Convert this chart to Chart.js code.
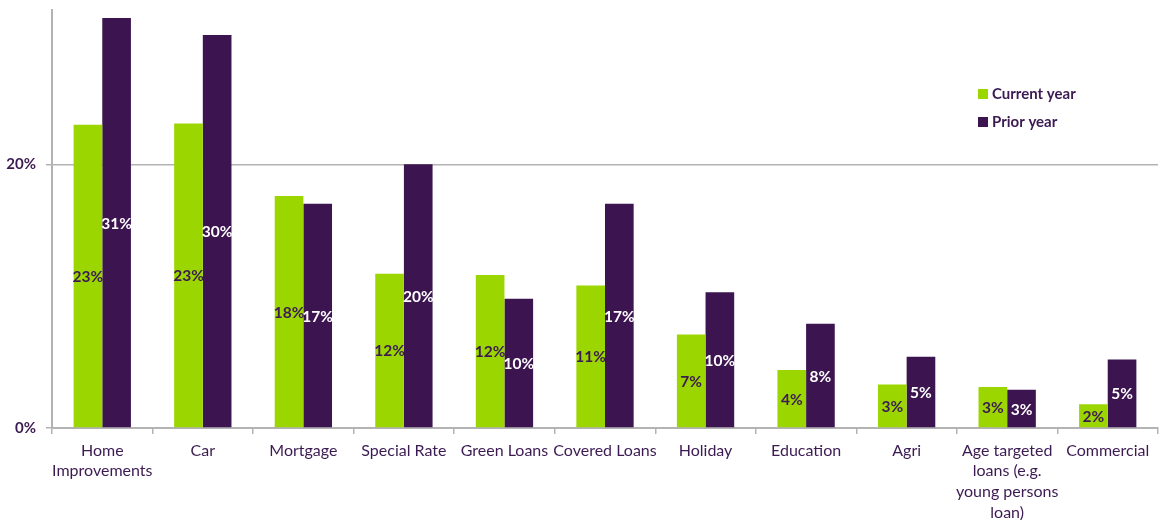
<!DOCTYPE html>
<html>
<head>
<meta charset="utf-8">
<script src="https://cdn.jsdelivr.net/npm/chart.js@4/dist/chart.umd.min.js"></script>
<style>
  html, body { margin: 0; padding: 0; background: #ffffff; }
  #wrap { width: 1166px; height: 520px; position: relative; }
</style>
</head>
<body>
<div id="wrap"><canvas id="chart"></canvas></div>
<script>
// Loan product categories (multi-line labels as drawn under the axis)
const categories = [
  ["Home", "Improvements"],
  "Car",
  "Mortgage",
  "Special Rate",
  "Green Loans",
  "Covered Loans",
  "Holiday",
  "Education",
  "Agri",
  ["Age targeted", "loans (e.g.", "young persons", "loan)"],
  "Commercial"
];

// Share of respondents, in percent
const currentYear = [23.0, 23.1, 17.6, 11.7, 11.6, 10.8, 7.1, 4.4, 3.3, 3.1, 1.8];
const priorYear   = [31.1, 29.8, 17.0, 20.0, 9.8, 17.0, 10.3, 7.9, 5.4, 2.9, 5.2];

const yTicks = [0, 20];

const GREEN = '#9cd600';
const PURPLE = '#3c1450';
const TEXT = '#3c1a52';
const GRID = '#b3b3b3';
const FONT = 'Lato, "Open Sans", sans-serif';

// Value labels centred inside each bar
const barValueLabels = {
  id: 'barValueLabels',
  afterDatasetsDraw(chart) {
    const ctx = chart.ctx;
    ctx.save();
    ctx.font = 'bold 15.5px ' + FONT;
    ctx.textAlign = 'center';
    ctx.textBaseline = 'middle';
    chart.data.datasets.forEach((ds, di) => {
      const meta = chart.getDatasetMeta(di);
      meta.data.forEach((bar, i) => {
        const v = ds.data[i];
        ctx.fillStyle = di === 0 ? TEXT : '#ffffff';
        ctx.fillText(Math.round(v) + '%', bar.x, (bar.y + bar.base) / 2 + 1);
      });
    });
    ctx.restore();
  }
};

// Legend placed inside the plot, right side
const sideLegend = {
  id: 'sideLegend',
  afterDraw(chart) {
    const ctx = chart.ctx;
    ctx.save();
    ctx.font = 'bold 15px ' + FONT;
    ctx.textBaseline = 'middle';
    chart.data.datasets.forEach((ds, i) => {
      const y = 94 + i * 28;
      ctx.fillStyle = ds.backgroundColor;
      ctx.fillRect(978, y - 5, 10, 10);
      ctx.fillStyle = TEXT;
      ctx.fillText(ds.label, 992, y);
    });
    ctx.restore();
  }
};

new Chart(document.getElementById('chart'), {
  type: 'bar',
  data: {
    labels: categories,
    datasets: [
      { label: 'Current year', data: currentYear, backgroundColor: GREEN },
      { label: 'Prior year', data: priorYear, backgroundColor: PURPLE }
    ]
  },
  options: {
    responsive: true,
    maintainAspectRatio: false,
    animation: false,
    layout: { padding: { top: 10, right: 8, left: 0, bottom: 0 } },
    datasets: { bar: { categoryPercentage: 0.57, barPercentage: 1.0 } },
    plugins: {
      legend: { display: false },
      tooltip: { enabled: false }
    },
    scales: {
      x: {
        grid: {
          offset: true,
          drawOnChartArea: false,
          drawTicks: true,
          tickLength: 6,
          color: GRID,
          lineWidth: 1.5
        },
        border: { color: GRID, width: 2 },
        ticks: {
          color: TEXT,
          font: { family: FONT, size: 16, lineHeight: 1.3 },
          padding: 6,
          maxRotation: 0,
          autoSkip: false
        },
        afterFit(scale) { scale.height = 92; }
      },
      y: {
        min: 0,
        max: 31.7,
        afterBuildTicks(scale) {
          scale.ticks = yTicks.map(v => ({ value: v }));
        },
        grid: {
          color: GRID,
          lineWidth: 1.5,
          tickLength: 6
        },
        border: { color: GRID, width: 2 },
        ticks: {
          color: TEXT,
          font: { family: FONT, size: 15, weight: 'bold' },
          padding: 10,
          callback: v => v + '%'
        },
        afterFit(scale) {
          scale.width = 52;
          scale.paddingTop = 0;
          scale.paddingBottom = 0;
        }
      }
    }
  },
  plugins: [barValueLabels, sideLegend]
});
</script>
</body>
</html>
